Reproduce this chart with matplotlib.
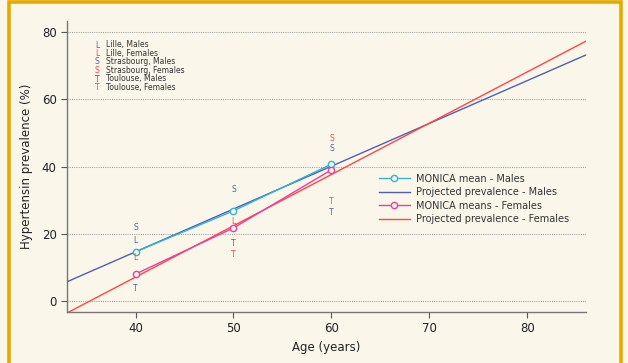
import numpy as np
import matplotlib
matplotlib.use("Agg")
import matplotlib.pyplot as plt
from matplotlib.patches import Rectangle

plt.rcParams['font.family'] = ['DejaVu Sans']

ages = [40, 50, 60]
monica_males = [14.6, 26.8, 40.7]
monica_females = [8.0, 21.7, 39.0]
proj_x = [33, 86]
proj_males = [5.7, 73.2]
proj_females = [-3.6, 77.3]

nan = float('nan')
city_labels = ["Lille, Males", "Lille, Females", "Strasbourg, Males",
               "Strasbourg, Females", "Toulouse, Males", "Toulouse, Females"]
city_letters = ["L", "L", "S", "S", "T", "T"]
city_values = [
    [18.1, nan, nan],
    [12.8, 23.5, nan],
    [21.7, 33.3, 45.3],
    [nan, nan, 48.4],
    [3.6, 17.0, 26.4],
    [nan, 13.9, 29.5],
]

BG = '#faf6ea'
BLUE = '#4f5fb8'
RED = '#ff4646'
CYAN = '#2fb5d3'
MAGENTA = '#e8409e'
letter_colors = [BLUE, RED, BLUE, RED, BLUE, RED]

fig = plt.figure(figsize=(6.28, 3.63), dpi=100, facecolor=BG)
fig.patches.append(Rectangle((9/628, -0.02), (621-9)/628, 1.02 - 1.5/363,
                             transform=fig.transFigure, fill=False,
                             edgecolor='#e4aa00', linewidth=2.6, zorder=0))
ax = fig.add_axes([67/628, 1-312/363, (586-67)/628, (312-21)/363])
ax.set_facecolor(BG)

ax.set_xlim(33, 86)
ax.set_ylim(-3.3, 83.3)
ax.set_xticks([40, 50, 60, 70, 80])
ax.set_yticks([0, 20, 40, 60, 80])
for y in [0, 20, 40, 60, 80]:
    ax.axhline(y, color='#a8a8a8', linestyle=(0, (1, 1)), linewidth=0.8, zorder=1)

ax.plot(proj_x, proj_males, color=BLUE, linewidth=1.0, zorder=3,
        label='Projected prevalence - Males')
ax.plot(proj_x, proj_females, color=RED, linewidth=1.0, zorder=3,
        label='Projected prevalence - Females')
ax.plot(ages, monica_males, color=CYAN, linewidth=1.0, marker='o', markersize=4.5,
        markerfacecolor=BG, markeredgewidth=1.0, zorder=4, label='MONICA mean - Males')
ax.plot(ages, monica_females, color=MAGENTA, linewidth=1.0, marker='o', markersize=4.5,
        markerfacecolor=BG, markeredgewidth=1.0, zorder=4, label='MONICA means - Females')

for letter, vals, col in zip(city_letters, city_values, letter_colors):
    for a, v in zip(ages, vals):
        if not np.isnan(v):
            ax.text(a, v, letter, color=col, fontsize=5.5, ha='center', va='center', zorder=5)

# letter key
for i, (letter, lab, col) in enumerate(zip(city_letters, city_labels, letter_colors)):
    yy = 1 - (45 + i * 8.5 - 21) / 291
    ax.text((97 - 67) / 519, yy, letter, color=col, fontsize=5.5, ha='center', va='center',
            transform=ax.transAxes)
    ax.text((106 - 67) / 519, yy, lab, color='#333333', fontsize=5.5, ha='left', va='center',
            transform=ax.transAxes)

h, l = ax.get_legend_handles_labels()
order = [2, 0, 3, 1]
leg = ax.legend([h[i] for i in order], [l[i] for i in order], loc='upper left',
                bbox_to_anchor=((375 - 67) / 519, 1 - (170 - 21) / 291), frameon=False,
                fontsize=7, handlelength=3.2, handletextpad=0.6, labelspacing=0.35,
                borderaxespad=0)
for t in leg.get_texts():
    t.set_color('#333333')

for s in ['top', 'right']:
    ax.spines[s].set_visible(False)
for s in ['left', 'bottom']:
    ax.spines[s].set_color('#777777')
    ax.spines[s].set_linewidth(1.0)
ax.tick_params(axis='both', colors='#555555', length=4, width=0.8, labelsize=8.5,
               labelcolor='#222222', direction='out')
ax.set_xlabel('Age (years)', fontsize=8.5, color='#222222', labelpad=4)
ax.set_ylabel('Hypertensin prevalence (%)', fontsize=8.5, color='#222222', labelpad=6)

fig.savefig('out.png', dpi=100, facecolor=BG)
